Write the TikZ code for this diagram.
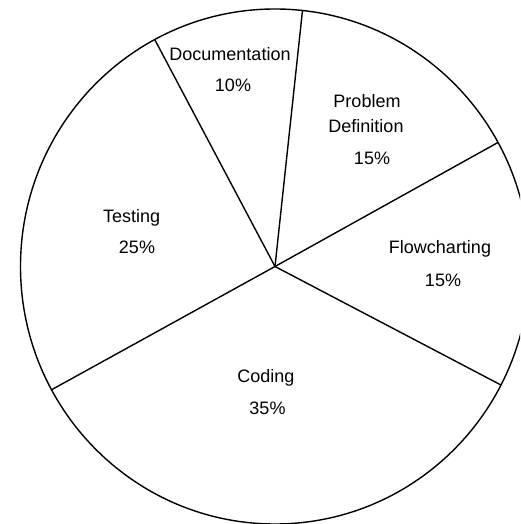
\documentclass[tikz,border=0pt]{standalone}
\usepackage{fontspec}
\setmainfont{Liberation Sans}
\usetikzlibrary{calc}
\begin{document}
\begin{tikzpicture}[x=1pt,y=1pt,
  pieline/.style={line width=1.4pt,black},
  lbl/.style={anchor=base,inner sep=0pt,font=\fontsize{18}{21}\selectfont}]
  \useasboundingbox (0,0) rectangle (520,524);
  \clip (0,0) rectangle (520,524);
  % centre of the pie
  \coordinate (C) at (275,257.5);
  % outline
  \draw[pieline] (C) ellipse [x radius=254.5, y radius=257.5];
  % slice boundaries on the rim
  \coordinate (rDoc)  at ($(C)+(118.2:254.5 and 257.5)$);
  \coordinate (rProb) at ($(C)+(83.8:254.5 and 257.5)$);
  \coordinate (rFlow) at ($(C)+(28.8:254.5 and 257.5)$);
  \coordinate (rCode) at ($(C)+(-27.4:254.5 and 257.5)$);
  \coordinate (rTest) at ($(C)+(208.6:254.5 and 257.5)$);
  \foreach \r in {rDoc,rProb,rFlow,rCode,rTest}
    \draw[pieline] (C) -- (\r);
  % slice labels
  \node[lbl] (docN) at (230,463.3) {Documentation};
  \node[lbl] (docP) at (233,432.3) {10\%};
  \node[lbl] (probN) at (367,416) {Problem};
  \node[lbl] (probD) at (366,391) {Definition};
  \node[lbl] (probP) at (372,359) {15\%};
  \node[lbl] (testN) at (131.7,301) {Testing};
  \node[lbl] (testP) at (137,270.7) {25\%};
  \node[lbl] (flowN) at (440,270.7) {Flowcharting};
  \node[lbl] (flowP) at (443,237.3) {15\%};
  \node[lbl] (codeN) at (266,141.3) {Coding};
  \node[lbl] (codeP) at (267.5,109) {35\%};
\end{tikzpicture}
\end{document}
